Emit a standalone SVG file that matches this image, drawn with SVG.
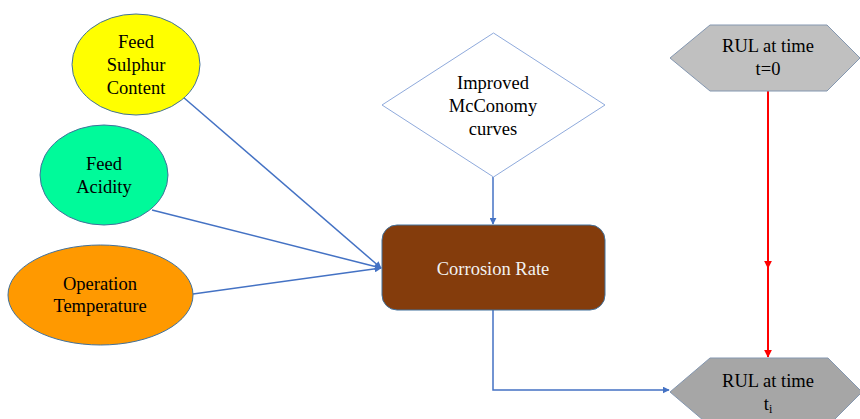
<svg xmlns="http://www.w3.org/2000/svg" width="860" height="419" viewBox="0 0 860 419">
<style>
.t{font-family:'Liberation Serif','Times New Roman','DejaVu Serif',serif;font-size:18.5px;fill:#000;text-anchor:middle}
.ell{stroke:#41719C;stroke-width:1}
.conn{fill:none;stroke:#4472C4;stroke-width:1.5}
.red{fill:none;stroke:#FF0000;stroke-width:2}
.hex{stroke:#8497B0;stroke-width:1}
</style>
<defs>
<marker id="ab" viewBox="0 0 10 10" refX="9" refY="5" markerWidth="7" markerHeight="7" orient="auto" markerUnits="userSpaceOnUse"><path d="M0,0 L10,5 L0,10 Z" fill="#4472C4"/></marker>
<marker id="ar" viewBox="0 0 10 10" refX="9" refY="5" markerWidth="8" markerHeight="8" orient="auto" markerUnits="userSpaceOnUse"><path d="M0,0 L10,5 L0,10 Z" fill="#FF0000"/></marker>
</defs>
<rect width="860" height="419" fill="#fff"/>
<g id="connectors">
<line class="conn" x1="183" y1="97" x2="381" y2="268" marker-end="url(#ab)"/>
<line class="conn" x1="152" y1="210" x2="381" y2="268" marker-end="url(#ab)"/>
<line class="conn" x1="193" y1="294" x2="381" y2="268" marker-end="url(#ab)"/>
<line class="conn" x1="493" y1="177" x2="493" y2="224" marker-end="url(#ab)"/>
<polyline class="conn" points="493,310 493,390 669,390" marker-end="url(#ab)"/>
<line class="red" x1="768" y1="91" x2="768" y2="268" marker-end="url(#ar)"/>
<line class="red" x1="768" y1="265" x2="768" y2="357" marker-end="url(#ar)"/>
</g>
<g id="feed-sulphur">
<ellipse class="ell" cx="136" cy="64.5" rx="64" ry="50.5" fill="#FFFF00"/>
<text class="t" x="136" y="48">Feed</text>
<text class="t" x="136" y="71">Sulphur</text>
<text class="t" x="136" y="94">Content</text>
</g>
<g id="feed-acidity">
<ellipse class="ell" cx="104" cy="175" rx="64" ry="50" fill="#00FA9A"/>
<text class="t" x="104" y="170">Feed</text>
<text class="t" x="104" y="193">Acidity</text>
</g>
<g id="operation-temperature">
<ellipse class="ell" cx="100.5" cy="295" rx="92.5" ry="50" fill="#FF9900"/>
<text class="t" x="100" y="290">Operation</text>
<text class="t" x="100" y="312">Temperature</text>
</g>
<g id="mcconomy">
<polygon points="493.5,33 605,105 493.5,177 382,105" fill="#fff" stroke="#8FAADC" stroke-width="1"/>
<text class="t" x="493" y="89">Improved</text>
<text class="t" x="493" y="112">McConomy</text>
<text class="t" x="493" y="135">curves</text>
</g>
<g id="corrosion-rate">
<rect x="382" y="225" width="223" height="85" rx="15" fill="#843C0C" stroke="#41719C" stroke-width="1"/>
<text class="t" x="493" y="275" style="fill:#F2F2F2">Corrosion Rate</text>
</g>
<g id="rul-t0">
<polygon class="hex" points="670,58 710,25 827,25 860,58 827,91 710,91" fill="#C0C0C0"/>
<text class="t" x="768" y="52">RUL at time</text>
<text class="t" x="768" y="75">t=0</text>
</g>
<g id="rul-ti">
<polygon class="hex" points="670,392 710,358 828,358 862,392 828,426 710,426" fill="#A6A6A6"/>
<text class="t" x="768" y="387">RUL at time</text>
<text class="t" x="768" y="410">t<tspan font-size="12" dy="3">i</tspan></text>
</g>
</svg>
